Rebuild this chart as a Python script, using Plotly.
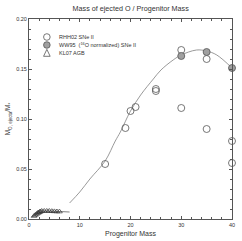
import plotly.graph_objects as go

# RHH02 SNe II (open circles)
rhh_mass = [15, 19, 20, 21, 25, 25, 30, 30, 35, 35, 40, 40]
rhh_frac = [0.055, 0.091, 0.108, 0.112, 0.128, 0.130, 0.169, 0.111, 0.160, 0.090, 0.078, 0.056]

# WW95 (16O normalized) SNe II (grey filled circles)
ww_mass = [30, 35, 40]
ww_frac = [0.163, 0.167, 0.151]

# KL07 AGB (open triangles)
agb_mass = [1.0, 1.25, 1.5, 1.75, 1.9, 2.1, 2.25, 2.5, 3.0, 3.5, 4.0, 4.5, 5.0, 5.5, 6.0]
agb_frac = [0.003, 0.004, 0.005, 0.006, 0.0065, 0.007, 0.0075, 0.008, 0.008, 0.008, 0.008, 0.0078, 0.0076, 0.0075, 0.0074]

# fitted curve
fit_x = [8, 10, 12, 15, 17, 18, 20, 22, 24.5, 26, 28.4, 30, 33, 35, 37, 40]
fit_y = [0.016, 0.027, 0.040, 0.058, 0.078, 0.087, 0.108, 0.124, 0.140, 0.149, 0.159, 0.164, 0.169, 0.168, 0.164, 0.151]

# AGB connecting line
agb_line_x = [0.5, 1.5, 2.5, 4.0, 6.0, 8.0]
agb_line_y = [0.002, 0.005, 0.008, 0.008, 0.0075, 0.007]

legend_labels = ["RHH02 SNe II", "WW95  (<sup>16</sup>O normalized) SNe II", "KL07 AGB"]

fig = go.Figure()
fig.add_trace(go.Scatter(x=fit_x, y=fit_y, mode="lines", line=dict(color="#808080", width=0.8, shape="spline"),
                         showlegend=False, hoverinfo="skip"))
fig.add_trace(go.Scatter(x=agb_line_x, y=agb_line_y, mode="lines", line=dict(color="#606060", width=0.8),
                         showlegend=False, hoverinfo="skip"))
fig.add_trace(go.Scatter(x=rhh_mass, y=rhh_frac, mode="markers", name=legend_labels[0], cliponaxis=False,
                         marker=dict(symbol="circle-open", size=7, color="#555555", line=dict(width=0.8))))
fig.add_trace(go.Scatter(x=ww_mass, y=ww_frac, mode="markers", name=legend_labels[1], cliponaxis=False,
                         marker=dict(symbol="circle", size=7, color="#a0a0a0", line=dict(width=0.8, color="#555555"))))
fig.add_trace(go.Scatter(x=agb_mass, y=agb_frac, mode="markers", name=legend_labels[2], cliponaxis=False,
                         marker=dict(symbol="triangle-up-open", size=5, color="#333333", line=dict(width=0.7))))

axis_common = dict(showline=True, linecolor="#555555", linewidth=1, mirror="allticks", ticks="inside",
                   ticklen=3, tickcolor="#555555", showgrid=False, zeroline=False, automargin=False,
                   tickfont=dict(size=5.5, color="#333333"))

# compact legend: marker shapes + text annotations (paper coords)
PW, PH = 203.0, 200.0  # plot area size in px
leg_y = [0.91, 0.87, 0.83]
lx = 0.088
rx, ry = 3.3 / PW, 3.3 / PH
shapes = [
    dict(type="circle", xref="paper", yref="paper", x0=lx - rx, x1=lx + rx, y0=leg_y[0] - ry, y1=leg_y[0] + ry,
         line=dict(color="#555555", width=0.8), fillcolor="white"),
    dict(type="circle", xref="paper", yref="paper", x0=lx - rx, x1=lx + rx, y0=leg_y[1] - ry, y1=leg_y[1] + ry,
         line=dict(color="#555555", width=0.8), fillcolor="#a0a0a0"),
    dict(type="path", xref="paper", yref="paper",
         path=f"M {lx - rx} {leg_y[2] - ry} L {lx + rx} {leg_y[2] - ry} L {lx} {leg_y[2] + ry * 1.1} Z",
         line=dict(color="#555555", width=0.8), fillcolor="white"),
]
annotations = [dict(x=0.138, y=leg_y[i], xref="paper", yref="paper", text=legend_labels[i], showarrow=False,
                    xanchor="left", yanchor="middle", font=dict(size=5.5, color="#333333")) for i in range(3)]

fig.update_layout(
    width=242, height=241,
    margin=dict(l=29, r=10, t=19, b=22),
    paper_bgcolor="white", plot_bgcolor="white",
    font=dict(family="Liberation Sans, Arial, sans-serif", color="#333333"),
    title=dict(text="Mass of ejected O / Progenitor Mass", x=0.54, xanchor="center", y=0.965, yanchor="middle",
               font=dict(size=7.2, color="#333333")),
    xaxis=dict(range=[0, 40], tickvals=[0, 10, 20, 30, 40],
               minor=dict(dtick=2, ticks="inside", ticklen=2, tickcolor="#555555"),
               title=dict(text="Progenitor Mass", font=dict(size=7), standoff=4),
               **axis_common),
    yaxis=dict(range=[0, 0.20], tickvals=[0, 0.05, 0.10, 0.15, 0.20], tickformat=".2f",
               minor=dict(dtick=0.01, ticks="inside", ticklen=2, tickcolor="#555555"),
               title=dict(text="M<sub>O, ejecta</sub>/M<sub>*</sub>", font=dict(size=6.5), standoff=4),
               **axis_common),
    shapes=shapes,
    annotations=annotations,
    showlegend=False,
)

fig.write_html("out.html", config={"displayModeBar": False},
               post_script="document.body.style.margin='0';document.body.style.padding='0';document.body.style.overflow='hidden';")
